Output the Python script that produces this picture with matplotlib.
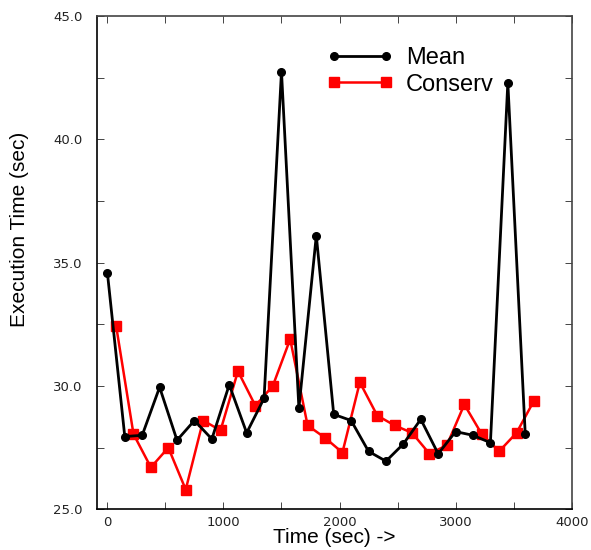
import numpy as np
import matplotlib
matplotlib.use('Agg')
import matplotlib.pyplot as plt
from matplotlib.ticker import MultipleLocator, FormatStrFormatter

mean_t = [0, 150, 300, 450, 600, 750, 900, 1050, 1200, 1350, 1500, 1650, 1800,
          1950, 2100, 2250, 2400, 2550, 2700, 2850, 3000, 3150, 3300, 3450, 3600]
mean_v = [34.6, 27.95, 28.0, 29.95, 27.8, 28.6, 27.85, 30.05, 28.1, 29.5, 42.75, 29.1, 36.1,
          28.85, 28.6, 27.35, 26.95, 27.65, 28.65, 27.25, 28.15, 28.0, 27.7, 42.3, 28.05]

cons_t = [75, 225, 375, 525, 675, 825, 975, 1125, 1275, 1425, 1575, 1725, 1875,
          2025, 2175, 2325, 2475, 2625, 2775, 2925, 3075, 3225, 3375, 3525, 3675]
cons_v = [32.45, 28.05, 26.7, 27.5, 25.8, 28.6, 28.2, 30.6, 29.2, 30.0, 31.9, 28.4, 27.9,
          27.3, 30.15, 28.8, 28.4, 28.1, 27.25, 27.6, 29.25, 28.05, 27.35, 28.1, 29.4]

lab_font = 'Liberation Sans'

fig = plt.figure(figsize=(5.91, 5.5), dpi=100)
ax = fig.add_axes([0.1636, 0.074, 0.8037, 0.8969])

ax.plot(cons_t, cons_v, color='#ff0000', lw=1.8, marker='s', ms=6.5, mec='#ff0000',
        label='Conserv', zorder=2)
ax.plot(mean_t, mean_v, color='black', lw=2, marker='o', ms=5.5, label='Mean', zorder=3)

ax.set_xlim(-92, 4000)
ax.set_ylim(25, 45)

ax.xaxis.set_major_locator(MultipleLocator(1000))
ax.xaxis.set_minor_locator(MultipleLocator(500))
ax.yaxis.set_major_locator(MultipleLocator(5))
ax.yaxis.set_minor_locator(MultipleLocator(2.5))
ax.yaxis.set_major_formatter(FormatStrFormatter('%.1f'))
ax.tick_params(which='both', direction='in', top=True, right=True, length=5, width=0.7,
               labelsize=9.5, color='#444444', labelcolor='#222222')
ax.tick_params(axis='x', pad=5)
ax.tick_params(axis='y', pad=10)
for s in ax.spines.values():
    s.set_linewidth(1.2)
ax.spines['top'].set_color('#444444')
ax.spines['right'].set_color('#444444')

ax.set_xlabel('Time (sec) ->', fontsize=15, family=lab_font, labelpad=-1)
ax.set_ylabel('Execution Time (sec)', fontsize=15, family=lab_font)
ax.yaxis.set_label_coords(-0.143, 0.568)

h, l = ax.get_legend_handles_labels()
leg = ax.legend(h[::-1], l[::-1], loc='center left', bbox_to_anchor=(0.484, 0.888),
                frameon=False, prop={'family': lab_font, 'size': 17}, numpoints=2,
                handlelength=2.8, handletextpad=0.55, labelspacing=0.2, borderpad=0,
                borderaxespad=0)
leg.set_zorder(1)

fig.savefig('out.png', dpi=100)
